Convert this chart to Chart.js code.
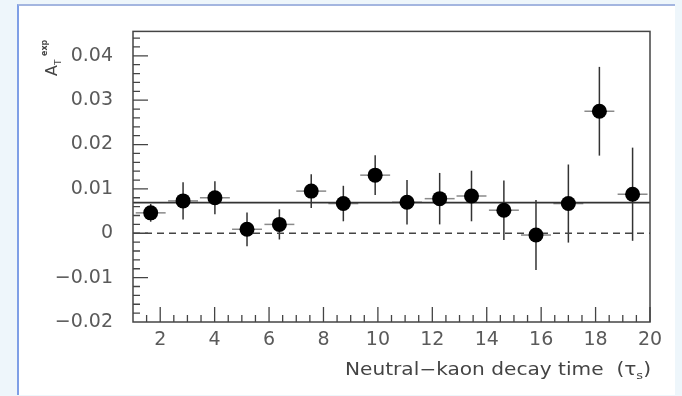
<!DOCTYPE html>
<html>
<head>
<meta charset="utf-8">
<script src="https://cdn.jsdelivr.net/npm/chart.js@4.4.0/dist/chart.umd.min.js"></script>
<style>
  html, body { margin: 0; padding: 0; background: #eef6fb; }
  #wrap { position: relative; width: 682px; height: 396px; overflow: hidden; }
  #paper { position: absolute; left: 17px; top: 4px; width: 656px; height: 389px; background: #fff;
           border-top: 2px solid #a4b6e0; border-left: 2px solid #7f9fe6; }
  canvas { position: absolute; left: 0; top: 0; }
</style>
</head>
<body>
<div id="wrap">
  <div id="paper"></div>
  <canvas id="chart" width="682" height="396"></canvas>
</div>
<script>
// measured asymmetry per decay-time bin
const decayTime = [1.65, 2.84, 4.01, 5.19, 6.38, 7.55, 8.73, 9.90, 11.07, 12.27, 13.44, 14.63, 15.81, 17.00, 18.14, 19.36];
const timeErr = [0.55, 0.55, 0.55, 0.55, 0.55, 0.55, 0.55, 0.55, 0.55, 0.55, 0.55, 0.55, 0.55, 0.55, 0.55, 0.55];
const asym = [0.0046, 0.0073, 0.0080, 0.0009, 0.0020, 0.0095, 0.0067, 0.0131, 0.0070, 0.0078, 0.0084, 0.0052, -0.0004, 0.0067, 0.0275, 0.0088];
const asymErr = [0.0020, 0.0042, 0.0037, 0.0038, 0.0034, 0.0038, 0.0040, 0.0045, 0.0050, 0.0058, 0.0057, 0.0067, 0.0079, 0.0088, 0.0100, 0.0105];
const fitValue = 0.0069;

const xRange = [1, 20];
const yRange = [-0.02, 0.0455];
const xTicks = [2, 4, 6, 8, 10, 12, 14, 16, 18, 20];
const yTicks = [-0.02, -0.01, 0, 0.01, 0.02, 0.03, 0.04];
const yTickLabels = ["\u22120.02", "\u22120.01", "0", "0.01", "0.02", "0.03", "0.04"];
const xMinorStep = 0.5;
const yMinorStep = 0.002;

const FONT = '"DejaVu Sans", sans-serif';

const errorBars = {
  id: "errorBars",
  beforeDatasetsDraw(chart) {
    const { ctx, scales: { x, y } } = chart;
    ctx.save();
    ctx.lineWidth = 1.5;
    decayTime.forEach((t, i) => {
      const px = x.getPixelForValue(t);
      const py = y.getPixelForValue(asym[i]);
      ctx.strokeStyle = "#8a8a8a";
      ctx.beginPath();
      ctx.moveTo(x.getPixelForValue(t - timeErr[i]), py);
      ctx.lineTo(x.getPixelForValue(t + timeErr[i]), py);
      ctx.stroke();
      ctx.strokeStyle = "#333";
      ctx.beginPath();
      ctx.moveTo(px, y.getPixelForValue(asym[i] - asymErr[i]));
      ctx.lineTo(px, y.getPixelForValue(asym[i] + asymErr[i]));
      ctx.stroke();
    });
    ctx.restore();
  },
};

const frameAndLabels = {
  id: "frameAndLabels",
  afterDraw(chart) {
    const { ctx, chartArea: a, scales: { x, y } } = chart;
    ctx.save();
    ctx.strokeStyle = "#444";
    ctx.lineWidth = 1.5;
    ctx.strokeRect(a.left, a.top, a.right - a.left, a.bottom - a.top);

    // inward ticks
    ctx.lineWidth = 1.3;
    ctx.beginPath();
    for (let v = xRange[0] + xMinorStep; v < xRange[1] + 1e-9; v += xMinorStep) {
      const major = Math.abs(v / 2 - Math.round(v / 2)) < 1e-6;
      const px = x.getPixelForValue(v);
      ctx.moveTo(px, a.bottom);
      ctx.lineTo(px, a.bottom - (major ? 15 : 7));
    }
    for (let v = yRange[0] + yMinorStep; v < yRange[1]; v += yMinorStep) {
      const major = Math.abs(v / 0.01 - Math.round(v / 0.01)) < 1e-6;
      const py = y.getPixelForValue(v);
      ctx.moveTo(a.left, py);
      ctx.lineTo(a.left + (major ? 15 : 7), py);
    }
    ctx.stroke();

    // x title with subscript, stretched a bit to match the wide original face
    ctx.fillStyle = "#444";
    ctx.textBaseline = "alphabetic";
    ctx.font = "17px " + FONT;
    const main = "Neutral\u2212kaon decay time  (\u03c4";
    const mainW = ctx.measureText(main).width;
    const closeW = ctx.measureText(")").width;
    ctx.font = "11px " + FONT;
    const subW = ctx.measureText("s").width;
    const stretch = 306 / (mainW + subW + closeW);
    ctx.save();
    ctx.translate(651 - 306, 375);
    ctx.scale(stretch, 1);
    ctx.font = "17px " + FONT;
    ctx.fillText(main, 0, 0);
    ctx.font = "11px " + FONT;
    ctx.fillText("s", mainW, 4);
    ctx.font = "17px " + FONT;
    ctx.fillText(")", mainW + subW, 0);
    ctx.restore();

    // rotated y title A_T^exp
    ctx.translate(57, 76);
    ctx.rotate(-Math.PI / 2);
    ctx.font = "16px " + FONT;
    ctx.fillText("A", 0, 0);
    ctx.font = "9px " + FONT;
    ctx.fillText("T", 11, 4);
    ctx.font = "bold 8px " + FONT;
    ctx.fillText("exp", 20, -10);
    ctx.restore();
  },
};

new Chart(document.getElementById("chart"), {
  type: "scatter",
  data: {
    datasets: [
      {
        label: "A_T",
        data: decayTime.map((t, i) => ({ x: t, y: asym[i] })),
        pointRadius: 7.5,
        pointBackgroundColor: "#000",
        pointBorderWidth: 0,
        showLine: false,
      },
      {
        label: "fit",
        data: xRange.map((t) => ({ x: t, y: fitValue })),
        showLine: true,
        pointRadius: 0,
        borderColor: "#333",
        borderWidth: 1.6,
      },
      {
        label: "zero",
        data: xRange.map((t) => ({ x: t, y: 0 })),
        showLine: true,
        pointRadius: 0,
        borderColor: "#444",
        borderWidth: 1.3,
        borderDash: [7, 5],
      },
    ],
  },
  options: {
    responsive: false,
    animation: false,
    layout: { padding: { top: 31, right: 32, left: 0, bottom: 0 } },
    plugins: { legend: { display: false }, tooltip: { enabled: false } },
    scales: {
      x: {
        type: "linear",
        min: xRange[0],
        max: xRange[1],
        afterBuildTicks: (s) => { s.ticks = xTicks.map((v) => ({ value: v })); },
        afterFit: (s) => { s.height = 74; },
        grid: { display: false, drawTicks: false },
        border: { display: false },
        ticks: { color: "#5a5a5a", font: { family: FONT, size: 19 }, padding: 7, maxRotation: 0, autoSkip: false },
      },
      y: {
        type: "linear",
        min: yRange[0],
        max: yRange[1],
        afterBuildTicks: (s) => { s.ticks = yTicks.map((v) => ({ value: v })); },
        afterFit: (s) => { s.width = 133; },
        grid: { display: false, drawTicks: false },
        border: { display: false },
        ticks: {
          color: "#5a5a5a",
          font: { family: FONT, size: 19 },
          padding: 20,
          autoSkip: false,
          callback: (v) => yTickLabels[yTicks.findIndex((t) => Math.abs(t - v) < 1e-9)],
        },
      },
    },
  },
  plugins: [errorBars, frameAndLabels],
});
</script>
</body>
</html>
